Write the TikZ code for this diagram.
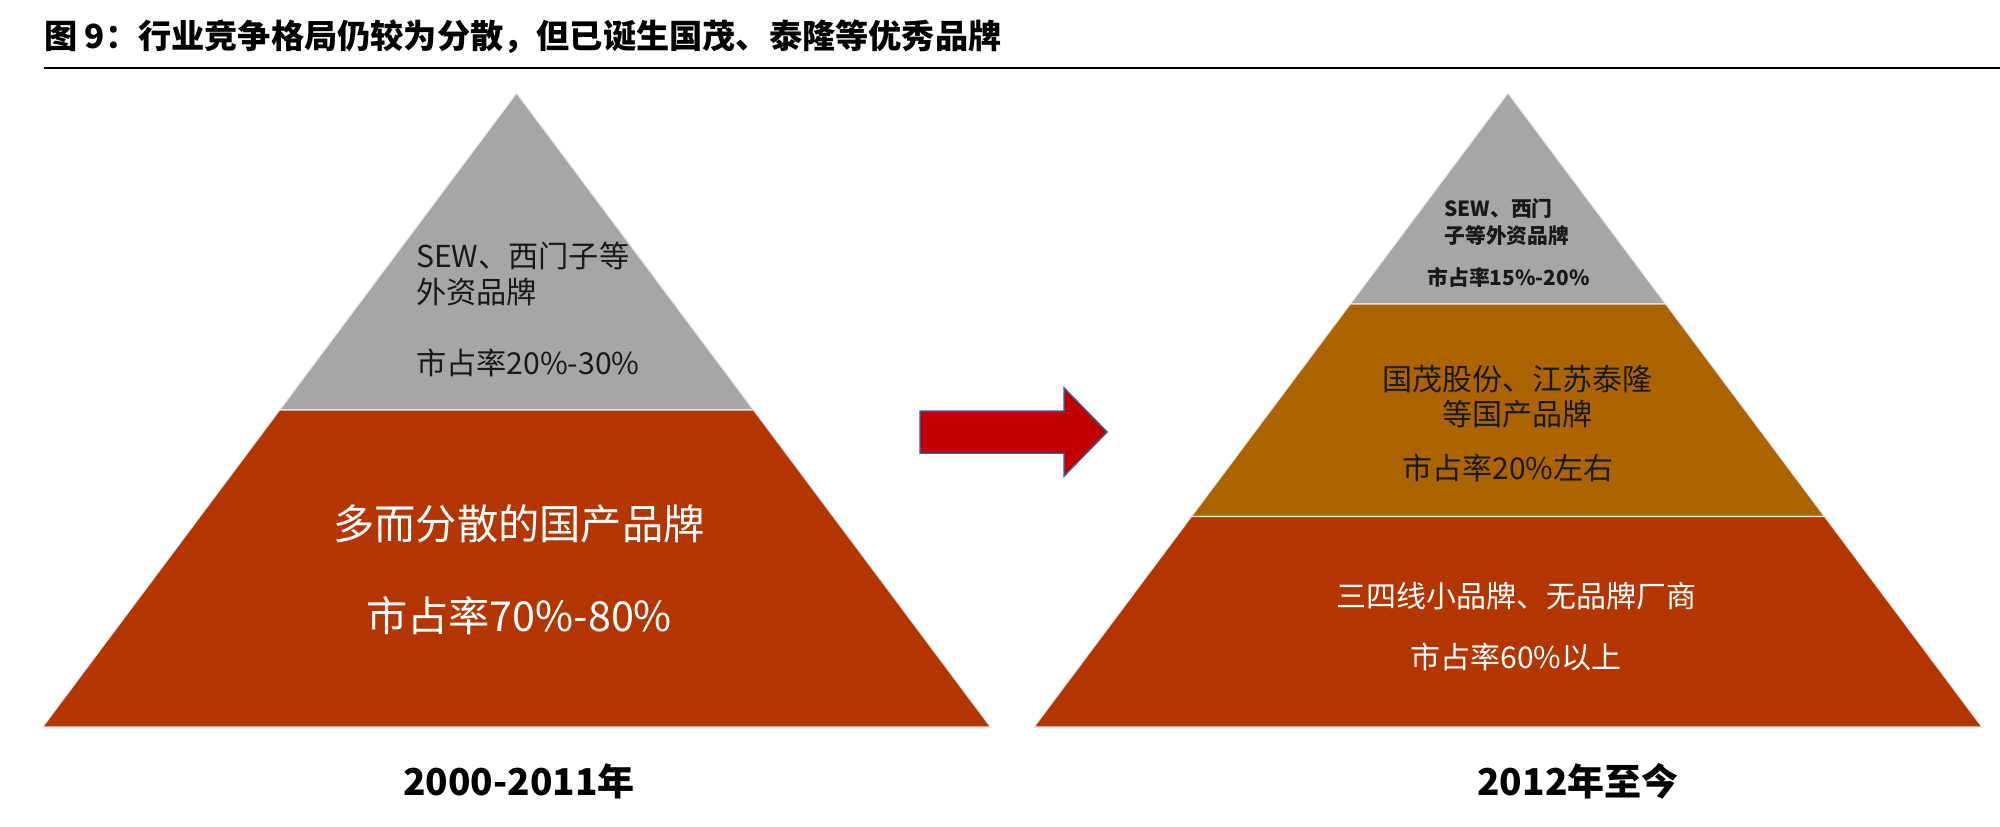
\documentclass[tikz,border=0pt]{standalone}
\usepackage{fontspec}
\setmainfont{Noto Sans CJK SC}
\usetikzlibrary{positioning}
\definecolor{greyband}{RGB}{166,166,166}
\definecolor{rustband}{RGB}{179,53,0}
\definecolor{goldband}{RGB}{172,100,0}
\definecolor{arrowred}{RGB}{192,0,0}
\definecolor{arrowedge}{RGB}{62,88,140}
\newcommand{\fs}[1]{\fontsize{#1}{#1}\selectfont}
\tikzset{
  every node/.style={
    inner sep=0pt,
    outer sep=0pt
  },
  band/.style={draw=white!92!black, line width=1.2pt},
  greytxt/.style={font=\fs{30.2}, text=black!90},
  bigtxt/.style={font=\fs{41.3}, text=white},
  toptxt/.style={font=\fs{20.8}\bfseries, text=black!90},
  goldtxt/.style={font=\fs{30}, text=black!90},
  redtxt/.style={font=\fs{30}, text=white},
  yeartxt/.style={font=\fs{37}\bfseries}
}

\begin{document}
\begin{tikzpicture}[x=1pt,y=-1pt]
      \useasboundingbox (0,0) rectangle (2000,827);
      \node [anchor=base west, font=\fs{33.2}\bfseries] (Title) at (44,48)
      {图 9：行业竞争格局仍较为分散，但已诞生国茂、泰隆等优秀品牌};
      \draw [line width=2pt] (44,67.6) -- (2000,67.6);

      % left pyramid
      \fill [greyband, band] (516.6,93) -- (753.6,410) -- (279.6,410) -- cycle;
      \fill [rustband, band] (279.6,410) -- (753.6,410) -- (990.6,727) -- (42.6,727) -- cycle;
      \node [greytxt, anchor=base west] (LForeign) at (416,267) {SEW、西门子等};
      \node [greytxt, below=36pt of LForeign.base west, anchor=base west] (LForeign2) {外资品牌};
      \node [greytxt, below=71.5pt of LForeign2.base west, anchor=base west] (LShare) {市占率20\%-30\%};
      \node [bigtxt, anchor=base] (LDomestic) at (519,539.7) {多而分散的国产品牌};
      \node [bigtxt, below=92pt of LDomestic.base, anchor=base] (LShare2) {市占率70\%-80\%};
      \node [yeartxt, anchor=base] (LYear) at (519,795.7) {2000-2011年};

      % arrow
      \draw [fill=arrowred, draw=arrowedge, line width=1.5pt, line join=miter]
        (920,411) -- (1064,411) -- (1064,388) -- (1107,432) -- (1064,476)
        -- (1064,453) -- (920,453) -- cycle;

      % right pyramid
      \fill [greyband, band] (1508,93) -- (1665.8,304) -- (1350.2,304) -- cycle;
      \fill [goldband, band] (1350.2,304) -- (1665.8,304) -- (1824.6,516.5) -- (1191.4,516.5) -- cycle;
      \fill [rustband, band] (1191.4,516.5) -- (1824.6,516.5) -- (1982,727) -- (1034,727) -- cycle;
      \node [toptxt, anchor=base west] (RForeign) at (1444.5,216) {SEW、西门};
      \node [toptxt, below=27pt of RForeign.base west, anchor=base west] (RForeign2) {子等外资品牌};
      \node [toptxt, anchor=base] (RShare) at (1508.6,285) {市占率15\%-20\%};
      \node [goldtxt, anchor=base] (RLeader) at (1517,390.4) {国茂股份、江苏泰隆};
      \node [goldtxt, below=35.5pt of RLeader.base, anchor=base] (RLeader2) {等国产品牌};
      \node [goldtxt, below=53.5pt of RLeader2.base, anchor=base, xshift=-9pt] (RShare2) {市占率20\%左右};
      \node [redtxt, anchor=base] (RSmall) at (1516,607.4) {三四线小品牌、无品牌厂商};
      \node [redtxt, below=61pt of RSmall.base, anchor=base] (RShare3) {市占率60\%以上};
      \node [yeartxt, anchor=base] (RYear) at (1578,795.7) {2012年至今};
    \end{tikzpicture}
\end{document}
